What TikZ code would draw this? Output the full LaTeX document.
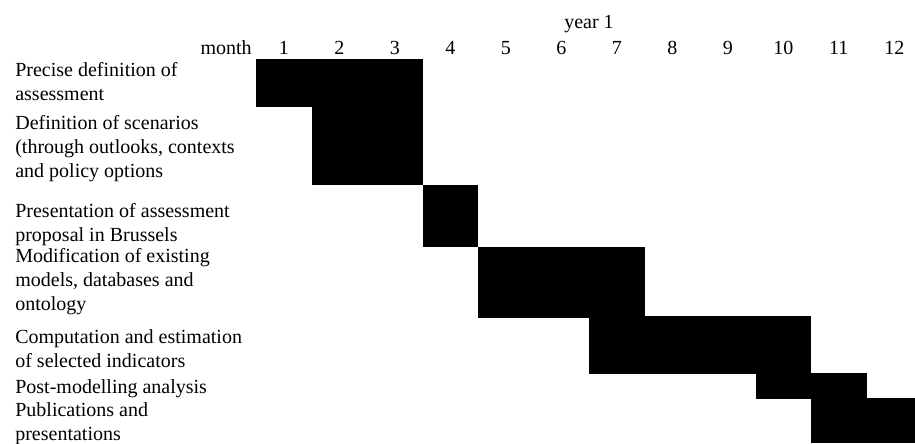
\documentclass[tikz,border=0pt]{standalone}
\usepackage{fontspec}
\setmainfont{Liberation Serif}
\usepackage{tikz}
\usetikzlibrary{positioning}

\begin{document}
\begin{tikzpicture}[
    x=0.6pt, y=-0.6pt,
    every node/.style={inner sep=0pt, font=\fontsize{12}{14.4}\selectfont},
    task/.style={anchor=base west, align=left},
    bar/.style={fill=black}
]
    \clip (0,0) rectangle (915,443);

    % header
    \node[anchor=base] (year) at (589,28) {year 1};
    \node[anchor=base east] (month) at (252,54) {month};
    \foreach \m in {1,...,12}
        \node[anchor=base] (m\m) at (256+55.5*\m-27.75,54) {\m};

    % tasks (placed at the baseline of their last line)
    \node[task] (precise) at (15,100) {Precise definition of\\assessment};
    \node[task] (scen) at (15,177) {Definition of scenarios\\(through outlooks, contexts\\and policy options};
    \node[task] (brussels) at (15,241) {Presentation of assessment\\proposal in Brussels};
    \node[task] (models) at (15,310) {Modification of existing\\models, databases and\\ontology};
    \node[task] (indic) at (15,367) {Computation and estimation\\of selected indicators};
    \node[task] (post) at (15,393) {Post-modelling analysis};
    \node[task] (publ) at (15,440) {Publications and\\presentations};

    % bars: first month / last month / top / bottom
    \foreach \a/\b/\t/\u in {1/3/59/107, 2/3/107/185, 4/4/185/247, 5/7/247/318,
                             7/10/316/374, 10/11/373/399, 11/12/398/443}
        \fill[bar] (256+55.5*\a-55.5,\t) rectangle (256+55.5*\b,\u);
\end{tikzpicture}
\end{document}
